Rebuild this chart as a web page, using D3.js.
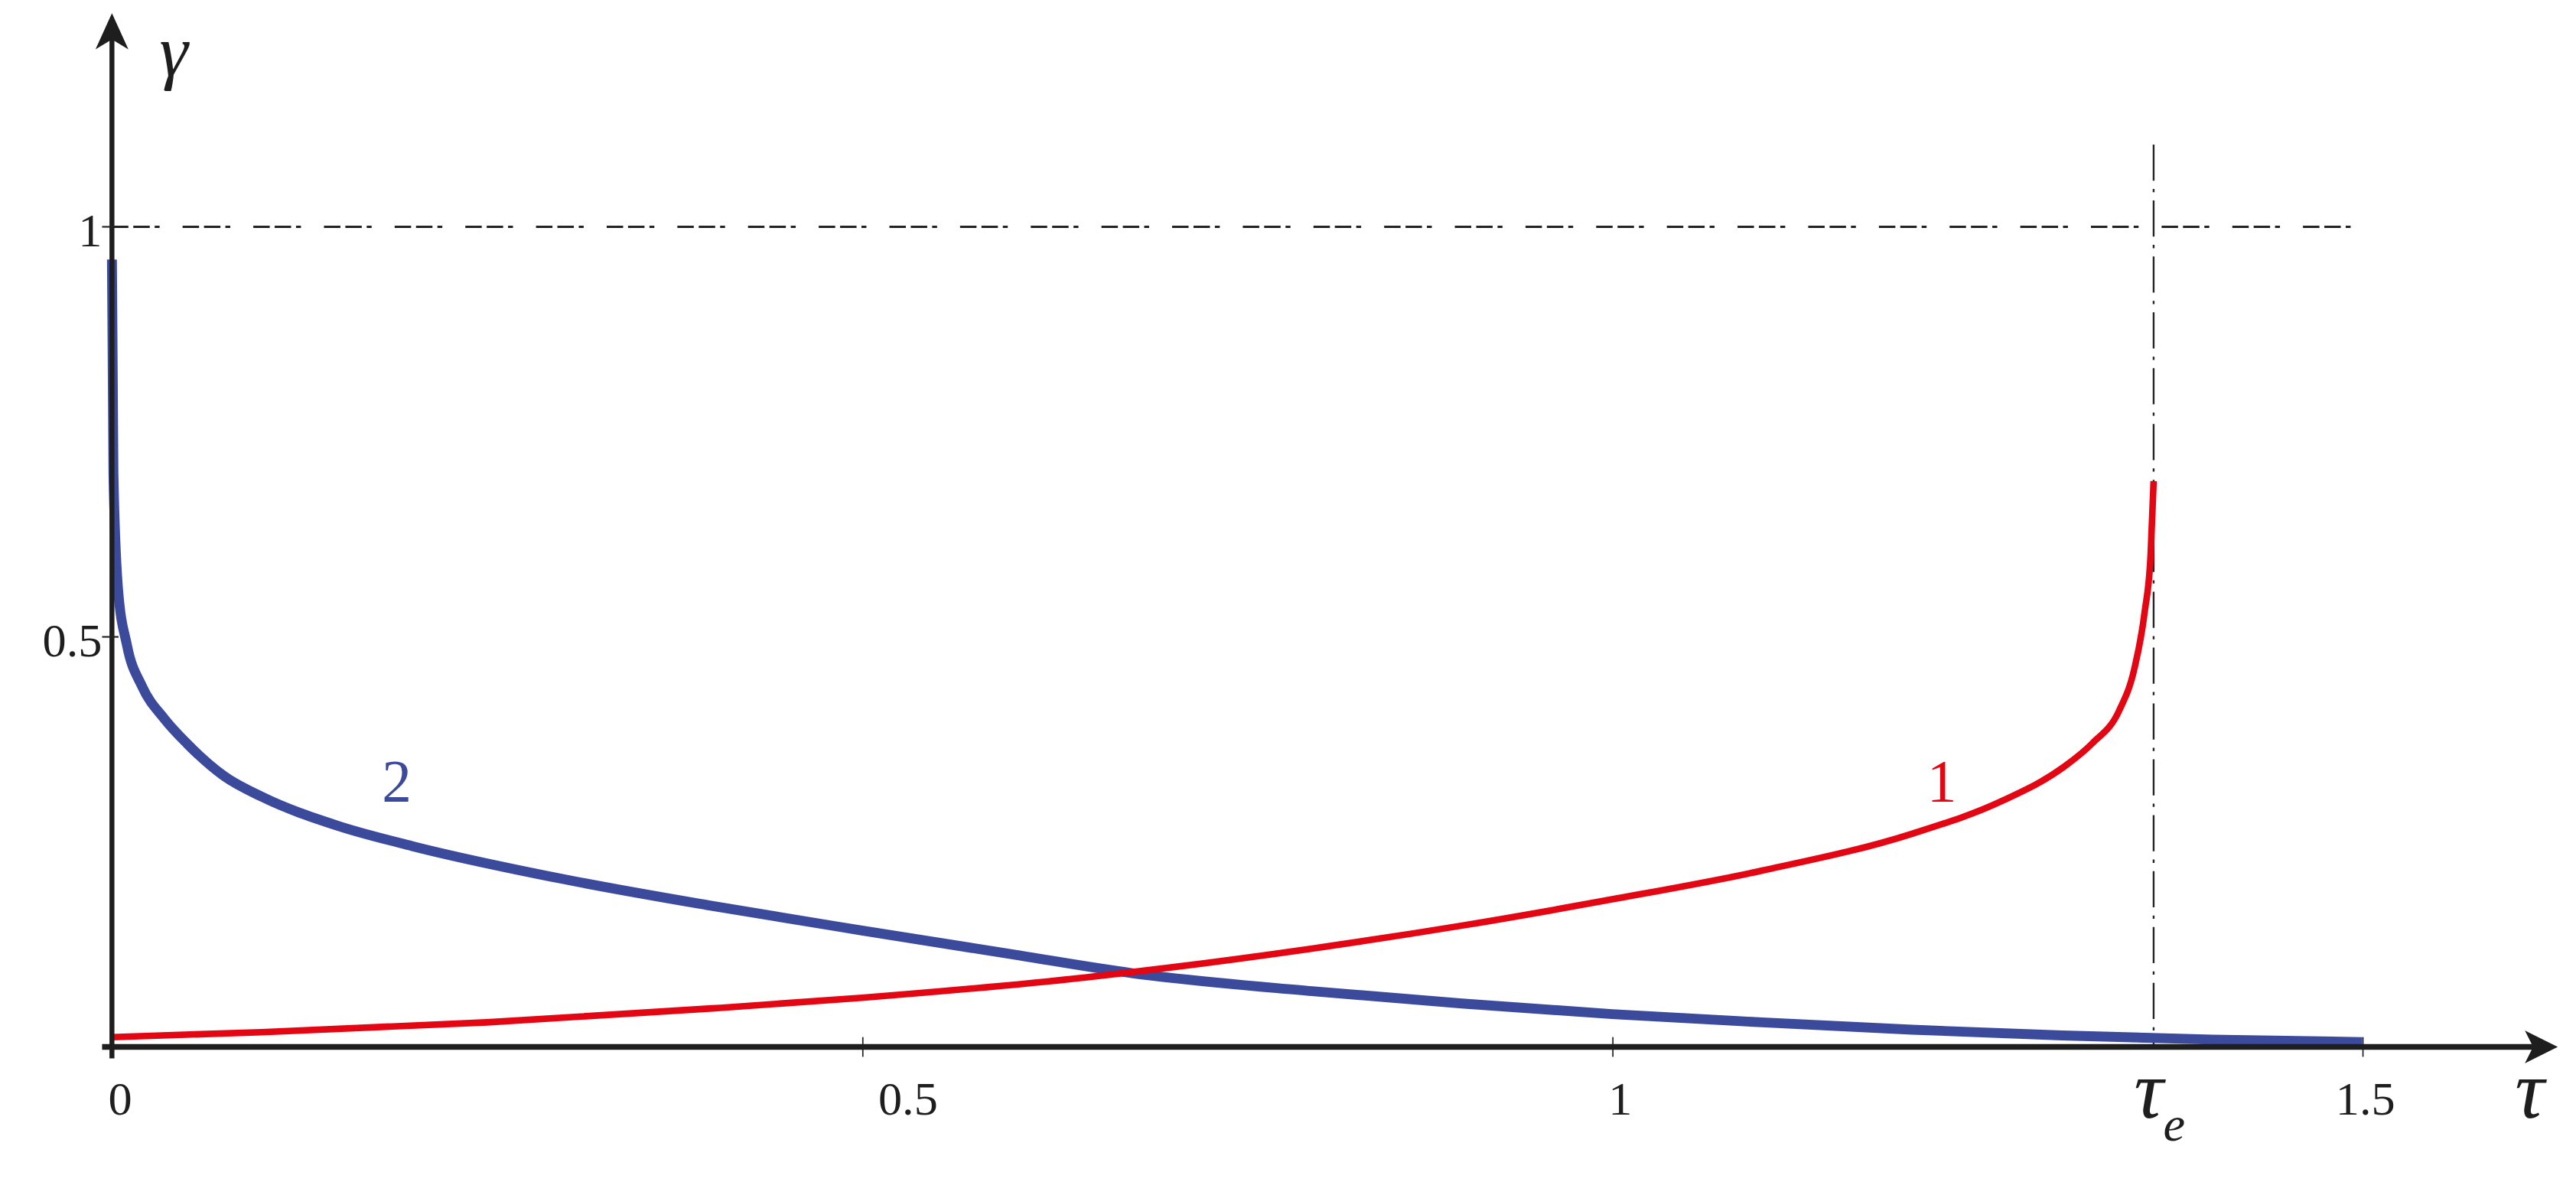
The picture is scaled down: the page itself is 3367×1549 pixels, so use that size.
<!DOCTYPE html>
<html><head><meta charset="utf-8">
<script src="https://cdn.jsdelivr.net/npm/d3@7"></script>
<style>html,body{margin:0;padding:0;background:#fff;overflow:hidden}</style>
</head><body>
<script>
const xTicks = [0, 0.5, 1, 1.5];
const xTickLabels = ["0", "0.5", "1", "1.5"];
const yTicks = [0.5, 1];
const yTickLabels = ["0.5", "1"];
const tauE = 1.361;
// curve 1 (red)
const tau1 = [0, 0.1, 0.25, 0.4, 0.5, 0.65, 0.8, 0.9, 1.0, 1.1, 1.2, 1.26, 1.3, 1.32, 1.338, 1.348, 1.355, 1.359, 1.361];
const gamma1 = [0.012, 0.018, 0.03, 0.047, 0.06, 0.085, 0.12, 0.148, 0.18, 0.215, 0.26, 0.3, 0.34, 0.37, 0.41, 0.46, 0.53, 0.6, 0.69];
// curve 2 (blue)
const tau2 = [0, 0.001, 0.004, 0.01, 0.02, 0.035, 0.05, 0.075, 0.1, 0.15, 0.2, 0.3, 0.4, 0.5, 0.6, 0.68, 0.8, 0.9, 1.0, 1.1, 1.2, 1.3, 1.4, 1.5];
const gamma2 = [0.96, 0.7, 0.56, 0.49, 0.44, 0.4, 0.37, 0.33, 0.305, 0.27, 0.245, 0.205, 0.172, 0.142, 0.113, 0.09, 0.068, 0.053, 0.04, 0.03, 0.021, 0.014, 0.009, 0.006];
const curveLabels = [{t: "2", x: 0.18, y: 0.3, c: "#3b4a9b"}, {t: "1", x: 1.21, y: 0.3, c: "#e30613"}];

const W = 1567, H = 721;
const svg = d3.select("body").append("svg")
  .attr("width", 3367).attr("height", 1549)
  .attr("viewBox", `0 0 ${W} ${H}`);
const x = d3.scaleLinear().domain([0, 1.5]).range([68, 1437]);
const y = d3.scaleLinear().domain([0, 1]).range([637, 138]);
const serif = "'Liberation Serif', 'DejaVu Serif', serif";

// reference dash-dot lines
svg.append("line").attr("x1", x(0)).attr("x2", x(1.5)).attr("y1", y(1)).attr("y2", y(1))
  .attr("stroke", "#222").attr("stroke-width", 1.3).attr("stroke-dasharray", "10 3 10 3 3 14");
svg.append("line").attr("x1", x(tauE)).attr("x2", x(tauE)).attr("y1", 88).attr("y2", y(0))
  .attr("stroke", "#222").attr("stroke-width", 1.1).attr("stroke-dasharray", "22 5 2 5");

// curves
const line = d3.line().x(d => x(d[0])).y(d => y(d[1])).curve(d3.curveMonotoneX);
svg.append("path").datum(tau2.map((t, i) => [t, gamma2[i]]))
  .attr("d", line).attr("fill", "none").attr("stroke", "#3b4a9b").attr("stroke-width", 6);
svg.append("path").datum(tau1.map((t, i) => [t, gamma1[i]]))
  .attr("d", line).attr("fill", "none").attr("stroke", "#e30613").attr("stroke-width", 4);

// axes
const xAxis = d3.axisBottom(x).tickValues(xTicks).tickSize(6).tickFormat("");
const gx = svg.append("g").attr("transform", `translate(0,${y(0)})`).call(xAxis);
gx.select(".domain").remove();
gx.selectAll(".tick line").attr("y1", -6).attr("y2", 6).attr("stroke", "#222").attr("stroke-width", 0.8);
svg.append("line").attr("x1", 62).attr("x2", 1548).attr("y1", y(0)).attr("y2", y(0))
  .attr("stroke", "#1e1e1e").attr("stroke-width", 3.5);
svg.append("path").attr("d", `M1556,${y(0)} L1536,${y(0) - 10} L1541,${y(0)} L1536,${y(0) + 10} Z`).attr("fill", "#1e1e1e");
svg.append("line").attr("x1", x(0)).attr("x2", x(0)).attr("y1", 644).attr("y2", 18)
  .attr("stroke", "#1e1e1e").attr("stroke-width", 3);
svg.append("path").attr("d", `M${x(0)},8 L${x(0) - 10},30 L${x(0)},24 L${x(0) + 10},30 Z`).attr("fill", "#1e1e1e");
svg.selectAll(".ytick").data(yTicks).enter().append("line")
  .attr("x1", x(0) - 6).attr("x2", x(0) + 4).attr("y1", d => y(d)).attr("y2", d => y(d))
  .attr("stroke", "#222").attr("stroke-width", 1);

// tick labels
const xOff = [5, 28, 5, 2];
svg.selectAll(".xl").data(xTicks).enter().append("text")
  .attr("x", (d, i) => x(d) + xOff[i]).attr("y", 678).attr("text-anchor", "middle")
  .attr("font-family", serif).attr("font-size", 29).attr("fill", "#1e1e1e")
  .text((d, i) => xTickLabels[i]);
svg.selectAll(".yl").data(yTicks).enter().append("text")
  .attr("x", 62).attr("y", d => y(d) + 12).attr("text-anchor", "end")
  .attr("font-family", serif).attr("font-size", 29).attr("fill", "#1e1e1e")
  .text((d, i) => yTickLabels[i]);

// axis titles
svg.append("text").attr("x", 97).attr("y", 46).attr("font-family", serif).attr("font-style", "italic")
  .attr("font-size", 44).attr("fill", "#1e1e1e").text("γ");
svg.append("text").attr("x", 1530).attr("y", 680).attr("font-family", serif).attr("font-style", "italic")
  .attr("font-size", 50).attr("fill", "#1e1e1e").text("τ");
const te = svg.append("text").attr("x", x(tauE) - 12).attr("y", 680).attr("font-family", serif).attr("font-style", "italic")
  .attr("fill", "#1e1e1e");
te.append("tspan").attr("font-size", 50).text("τ");
te.append("tspan").attr("font-size", 30).attr("dy", 14).text("e");

// curve labels
svg.selectAll(".cl").data(curveLabels).enter().append("text")
  .attr("x", d => x(d.x)).attr("y", d => y(d.y)).attr("fill", d => d.c)
  .attr("font-family", serif).attr("font-size", 36).text(d => d.t);
</script>
</body></html>
